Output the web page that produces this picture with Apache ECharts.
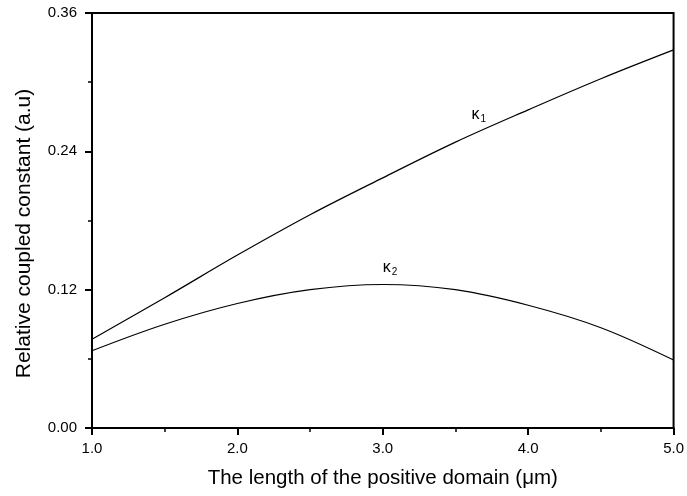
<!DOCTYPE html>
<html>
<head>
<meta charset="utf-8">
<script src="https://cdn.jsdelivr.net/npm/echarts@6/dist/echarts.min.js"></script>
<style>
html,body{margin:0;padding:0;background:#fff;}
#chart{width:687px;height:496px;}
</style>
</head>
<body>
<div id="chart"></div>
<script>
// Data
const xValues = [1.0, 1.5, 2.0, 2.5, 3.0, 3.5, 4.0, 4.5, 5.0];
const kappa1 = [0.077, 0.113, 0.150, 0.185, 0.217, 0.248, 0.276, 0.303, 0.328];
const kappa2 = [0.067, 0.090, 0.108, 0.120, 0.1245, 0.120, 0.1065, 0.087, 0.059];
const xTicks = [1.0, 2.0, 3.0, 4.0, 5.0];
const yTicks = [0.00, 0.12, 0.24, 0.36];
const labelK1 = { x: 3.66, y: 0.272, text: 'κ', sub: '1' };
const labelK2 = { x: 3.05, y: 0.139, text: 'κ', sub: '2' };

const font = '"Liberation Sans", Arial, Helvetica, sans-serif';
const chart = echarts.init(document.getElementById('chart'), null, { renderer: 'canvas' });

function pairs(xs, ys) { return xs.map((x, i) => [x, ys[i]]); }

const richLabel = {
  k: { fontSize: 16, fontFamily: font, color: '#000' },
  s: { fontSize: 10, fontFamily: font, color: '#000', padding: [9, 0, 0, 1] }
};

function markLabel(l) {
  return {
    symbol: 'rect',
    symbolSize: 1,
    silent: true,
    itemStyle: { color: 'rgba(0,0,0,0)' },
    label: {
      show: true,
      position: 'inside',
      formatter: '{k|' + l.text + '}{s|' + l.sub + '}',
      rich: richLabel
    },
    data: [{ coord: [l.x, l.y] }]
  };
}

const option = {
  animation: false,
  backgroundColor: '#fff',
  grid: {
    left: 92, right: 9, top: 13, bottom: 68,
    show: true, borderColor: '#000', borderWidth: 2, backgroundColor: 'transparent'
  },
  xAxis: {
    type: 'value',
    min: xTicks[0], max: xTicks[xTicks.length - 1], interval: 1,
    name: 'The length of the positive domain (μm)',
    nameLocation: 'middle', nameGap: 40,
    nameTextStyle: { fontSize: 20.5, fontFamily: font, color: '#000' },
    axisLine: { show: true, lineStyle: { color: '#000', width: 2 } },
    axisTick: { show: true, inside: false, length: 7, lineStyle: { color: '#000', width: 2 } },
    minorTick: { show: true, splitNumber: 2, length: 4, lineStyle: { color: '#000', width: 1.5 } },
    axisLabel: { fontSize: 15, fontFamily: font, color: '#000', margin: 13, formatter: v => v.toFixed(1) },
    splitLine: { show: false }
  },
  yAxis: {
    type: 'value',
    min: yTicks[0], max: yTicks[yTicks.length - 1], interval: 0.12,
    name: 'Relative coupled constant (a.u)',
    nameLocation: 'middle', nameGap: 57,
    nameTextStyle: { fontSize: 21, fontFamily: font, color: '#000', padding: [0, 26, 0, 0] },
    axisLine: { show: true, lineStyle: { color: '#000', width: 2 } },
    axisTick: { show: true, inside: false, length: 7, lineStyle: { color: '#000', width: 2 } },
    minorTick: { show: true, splitNumber: 2, length: 4, lineStyle: { color: '#000', width: 1.5 } },
    axisLabel: { fontSize: 15, fontFamily: font, color: '#000', margin: 15, formatter: v => v.toFixed(2) },
    splitLine: { show: false }
  },
  series: [
    {
      name: 'κ1', type: 'line', data: pairs(xValues, kappa1),
      smooth: 0.35, symbol: 'none',
      lineStyle: { color: '#000', width: 1.2 },
      markPoint: markLabel(labelK1)
    },
    {
      name: 'κ2', type: 'line', data: pairs(xValues, kappa2),
      smooth: 0.35, symbol: 'none',
      lineStyle: { color: '#000', width: 1.2 },
      markPoint: markLabel(labelK2)
    }
  ]
};
chart.setOption(option);
</script>
</body>
</html>
